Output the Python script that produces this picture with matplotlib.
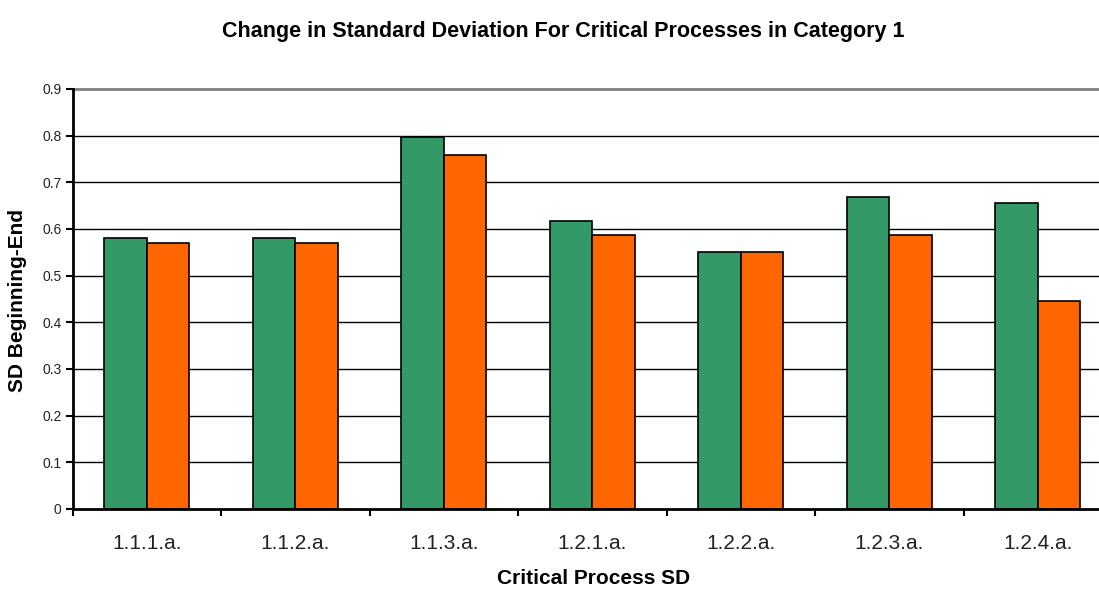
import matplotlib
matplotlib.use("Agg")
import matplotlib.pyplot as plt
import numpy as np

plt.rcParams['font.family'] = ['Liberation Sans', 'DejaVu Sans']

categories = ["1.1.1.a.", "1.1.2.a.", "1.1.3.a.", "1.2.1.a.", "1.2.2.a.", "1.2.3.a.", "1.2.4.a."]
sd_beginning = [0.58, 0.58, 0.797, 0.618, 0.55, 0.668, 0.656]
sd_end = [0.57, 0.57, 0.759, 0.587, 0.55, 0.587, 0.446]
yticks = [0, 0.1, 0.2, 0.3, 0.4, 0.5, 0.6, 0.7, 0.8, 0.9]
ytick_labels = ["0", "0.1", "0.2", "0.3", "0.4", "0.5", "0.6", "0.7", "0.8", "0.9"]

W, H = 1099, 589
fig = plt.figure(figsize=(W/100, H/100), dpi=100)
left_px, cat_w = 72.5, 148.5
ax = fig.add_axes([left_px/W, 80/H, 7*cat_w/W, 420/H])

x = np.arange(len(categories))
w = 0.2875
ax.bar(x - w/2, sd_beginning, width=w, color="#339966", edgecolor="black", linewidth=1.2, zorder=3)
ax.bar(x + w/2, sd_end, width=w, color="#FF6600", edgecolor="black", linewidth=1.2, zorder=3)

ax.set_xlim(-0.5, len(categories) - 0.5)
ax.set_ylim(0, 0.9)
ax.set_yticks(yticks)
ax.set_yticklabels(ytick_labels, fontsize=10, color="#222222")
for yv in yticks[1:-1]:
    ax.axhline(yv, color="black", linewidth=1.0, zorder=1)
ax.axhline(0.9, color="#808080", linewidth=2.0, zorder=1, clip_on=False)

ax.set_xticks(x)
ax.set_xticklabels(categories, fontsize=15, color="#222222")
ax.tick_params(axis='x', which='major', length=0, pad=18)
ax.set_xticks(np.arange(-0.5, len(categories), 1.0), minor=True)
ax.tick_params(axis='x', which='minor', length=5, width=1.5, direction='out')
ax.tick_params(axis='y', length=5, width=1.5, direction='out', pad=3)

for s in ['top', 'right']:
    ax.spines[s].set_visible(False)
for s in ['left', 'bottom']:
    ax.spines[s].set_linewidth(2)
    ax.spines[s].set_zorder(4)

fig.text(594/W, 1 - 578/H, "Critical Process SD", ha='center', va='center',
         fontsize=15, fontweight='bold')
fig.text(18/W, 1 - 300/H, "SD Beginning-End", ha='center', va='center',
         rotation=90, fontsize=15, fontweight='bold')
fig.text(563/W, 1 - 32/H, "Change in Standard Deviation For Critical Processes in Category 1",
         ha='center', va='center', fontsize=15.5, fontweight='bold')

fig.savefig("out.png", dpi=100)
